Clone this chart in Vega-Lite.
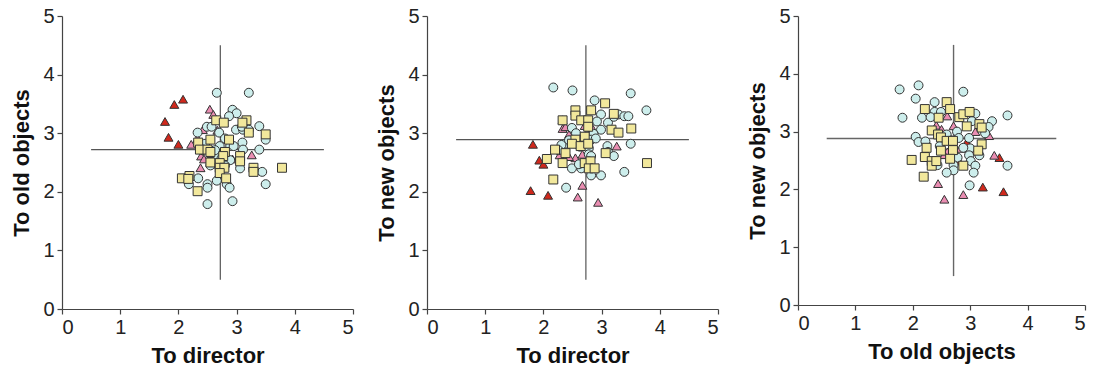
{
  "$schema": "https://vega.github.io/schema/vega-lite/v6.json",
  "padding": {"top": 6, "left": 10, "right": 5, "bottom": 5},
  "background": "white",
  "datasets": {
    "p1": [
      {"x":1.77,"y":3.20,"g":"red"},{"x":1.93,"y":3.49,"g":"red"},{"x":2.08,"y":3.58,"g":"red"},{"x":1.83,"y":2.93,"g":"red"},{"x":2.0,"y":2.81,"g":"red"},
      {"x":2.54,"y":3.41,"g":"pink"},{"x":2.6,"y":3.32,"g":"pink"},{"x":2.67,"y":3.05,"g":"pink"},{"x":2.42,"y":3.06,"g":"pink"},{"x":2.22,"y":2.81,"g":"pink"},{"x":2.33,"y":2.91,"g":"pink"},{"x":2.39,"y":2.61,"g":"pink"},{"x":2.44,"y":2.56,"g":"pink"},{"x":2.38,"y":2.41,"g":"pink"},{"x":2.66,"y":2.47,"g":"pink"},{"x":2.93,"y":2.56,"g":"pink"},{"x":3.26,"y":2.63,"g":"pink"},{"x":2.57,"y":2.65,"g":"pink"},
      {"x":2.66,"y":3.69,"g":"circle"},{"x":3.21,"y":3.69,"g":"circle"},{"x":2.93,"y":3.40,"g":"circle"},{"x":3.0,"y":3.34,"g":"circle"},{"x":2.87,"y":3.29,"g":"circle"},{"x":2.99,"y":3.06,"g":"circle"},{"x":3.11,"y":3.06,"g":"circle"},{"x":3.21,"y":3.06,"g":"circle"},{"x":3.39,"y":3.12,"g":"circle"},{"x":3.10,"y":2.84,"g":"circle"},{"x":3.11,"y":2.72,"g":"circle"},{"x":3.39,"y":2.72,"g":"circle"},{"x":3.50,"y":2.89,"g":"circle"},{"x":2.33,"y":3.01,"g":"circle"},{"x":2.49,"y":3.11,"g":"circle"},{"x":2.57,"y":3.11,"g":"circle"},{"x":2.70,"y":3.01,"g":"circle"},{"x":2.46,"y":2.82,"g":"circle"},{"x":2.8,"y":2.91,"g":"circle"},{"x":2.89,"y":2.78,"g":"circle"},{"x":2.71,"y":2.78,"g":"circle"},{"x":2.95,"y":2.78,"g":"circle"},{"x":2.66,"y":2.63,"g":"circle"},{"x":2.74,"y":2.57,"g":"circle"},{"x":2.89,"y":2.54,"g":"circle"},{"x":3.06,"y":2.40,"g":"circle"},{"x":3.29,"y":2.40,"g":"circle"},{"x":3.44,"y":2.34,"g":"circle"},{"x":3.50,"y":2.13,"g":"circle"},{"x":2.34,"y":2.23,"g":"circle"},{"x":2.18,"y":2.13,"g":"circle"},{"x":2.5,"y":2.13,"g":"circle"},{"x":2.5,"y":2.07,"g":"circle"},{"x":2.66,"y":2.19,"g":"circle"},{"x":2.83,"y":2.13,"g":"circle"},{"x":2.88,"y":2.07,"g":"circle"},{"x":2.5,"y":1.79,"g":"circle"},{"x":2.93,"y":1.84,"g":"circle"},{"x":2.55,"y":2.45,"g":"circle"},{"x":2.63,"y":2.71,"g":"circle"},{"x":2.41,"y":2.71,"g":"circle"},{"x":2.8,"y":2.45,"g":"circle"},{"x":3.09,"y":3.11,"g":"circle"},
      {"x":2.65,"y":3.22,"g":"square"},{"x":2.78,"y":3.18,"g":"square"},{"x":3.17,"y":3.22,"g":"square"},{"x":3.1,"y":3.18,"g":"square"},{"x":3.21,"y":3.01,"g":"square"},{"x":3.5,"y":2.98,"g":"square"},{"x":2.55,"y":2.89,"g":"square"},{"x":2.87,"y":2.89,"g":"square"},{"x":2.34,"y":2.84,"g":"square"},{"x":2.37,"y":2.72,"g":"square"},{"x":2.5,"y":2.72,"g":"square"},{"x":2.55,"y":2.68,"g":"square"},{"x":2.8,"y":2.68,"g":"square"},{"x":2.77,"y":2.61,"g":"square"},{"x":3.06,"y":2.61,"g":"square"},{"x":3.06,"y":2.52,"g":"square"},{"x":2.55,"y":2.5,"g":"square"},{"x":2.71,"y":2.49,"g":"square"},{"x":2.71,"y":2.41,"g":"square"},{"x":2.79,"y":2.41,"g":"square"},{"x":2.71,"y":2.32,"g":"square"},{"x":2.82,"y":2.23,"g":"square"},{"x":3.29,"y":2.41,"g":"square"},{"x":3.29,"y":2.34,"g":"square"},{"x":3.78,"y":2.41,"g":"square"},{"x":2.06,"y":2.23,"g":"square"},{"x":2.19,"y":2.27,"g":"square"},{"x":2.17,"y":2.22,"g":"square"},{"x":2.33,"y":2.01,"g":"square"}
    ],
    "p2": [
      {"x":1.82,"y":2.81,"g":"red"},{"x":1.93,"y":2.54,"g":"red"},{"x":2.0,"y":2.47,"g":"red"},{"x":1.78,"y":2.02,"g":"red"},{"x":2.08,"y":1.94,"g":"red"},
      {"x":2.33,"y":3.23,"g":"pink"},{"x":2.33,"y":3.08,"g":"pink"},{"x":2.38,"y":3.11,"g":"pink"},{"x":2.44,"y":2.98,"g":"pink"},{"x":2.61,"y":2.94,"g":"pink"},{"x":2.71,"y":3.13,"g":"pink"},{"x":2.84,"y":3.09,"g":"pink"},{"x":3.26,"y":2.78,"g":"pink"},{"x":2.67,"y":2.64,"g":"pink"},{"x":2.55,"y":2.58,"g":"pink"},{"x":2.44,"y":2.60,"g":"pink"},{"x":2.28,"y":2.63,"g":"pink"},{"x":2.67,"y":2.11,"g":"pink"},{"x":2.59,"y":1.91,"g":"pink"},{"x":2.94,"y":1.82,"g":"pink"},
      {"x":2.17,"y":3.78,"g":"circle"},{"x":2.5,"y":3.73,"g":"circle"},{"x":2.88,"y":3.56,"g":"circle"},{"x":3.5,"y":3.68,"g":"circle"},{"x":3.77,"y":3.39,"g":"circle"},{"x":2.99,"y":3.32,"g":"circle"},{"x":2.92,"y":3.2,"g":"circle"},{"x":3.11,"y":3.18,"g":"circle"},{"x":3.29,"y":3.32,"g":"circle"},{"x":3.39,"y":3.29,"g":"circle"},{"x":3.46,"y":3.29,"g":"circle"},{"x":3.21,"y":3.28,"g":"circle"},{"x":2.99,"y":3.06,"g":"circle"},{"x":2.86,"y":2.99,"g":"circle"},{"x":2.82,"y":2.89,"g":"circle"},{"x":2.49,"y":3.09,"g":"circle"},{"x":2.56,"y":3.0,"g":"circle"},{"x":2.37,"y":2.82,"g":"circle"},{"x":2.31,"y":2.80,"g":"circle"},{"x":2.44,"y":2.88,"g":"circle"},{"x":2.63,"y":2.77,"g":"circle"},{"x":2.78,"y":2.74,"g":"circle"},{"x":3.10,"y":2.78,"g":"circle"},{"x":3.11,"y":2.68,"g":"circle"},{"x":3.21,"y":2.61,"g":"circle"},{"x":3.5,"y":2.82,"g":"circle"},{"x":2.78,"y":2.64,"g":"circle"},{"x":2.82,"y":2.61,"g":"circle"},{"x":2.49,"y":2.40,"g":"circle"},{"x":2.65,"y":2.40,"g":"circle"},{"x":2.61,"y":2.47,"g":"circle"},{"x":2.82,"y":2.28,"g":"circle"},{"x":2.99,"y":2.28,"g":"circle"},{"x":3.39,"y":2.34,"g":"circle"},{"x":2.39,"y":2.07,"g":"circle"},{"x":2.78,"y":2.52,"g":"circle"},{"x":2.26,"y":2.71,"g":"circle"},{"x":2.9,"y":2.91,"g":"circle"},
      {"x":2.55,"y":3.39,"g":"square"},{"x":2.55,"y":3.30,"g":"square"},{"x":2.82,"y":3.39,"g":"square"},{"x":3.06,"y":3.51,"g":"square"},{"x":2.65,"y":3.22,"g":"square"},{"x":2.77,"y":3.22,"g":"square"},{"x":2.77,"y":3.11,"g":"square"},{"x":2.33,"y":3.22,"g":"square"},{"x":3.21,"y":3.33,"g":"square"},{"x":3.17,"y":3.06,"g":"square"},{"x":3.29,"y":3.01,"g":"square"},{"x":3.51,"y":3.08,"g":"square"},{"x":2.71,"y":2.94,"g":"square"},{"x":2.55,"y":2.89,"g":"square"},{"x":2.49,"y":2.82,"g":"square"},{"x":2.64,"y":2.78,"g":"square"},{"x":2.77,"y":2.82,"g":"square"},{"x":2.2,"y":2.72,"g":"square"},{"x":2.38,"y":2.66,"g":"square"},{"x":2.06,"y":2.56,"g":"square"},{"x":2.33,"y":2.49,"g":"square"},{"x":3.07,"y":2.66,"g":"square"},{"x":2.71,"y":2.49,"g":"square"},{"x":2.81,"y":2.52,"g":"square"},{"x":2.78,"y":2.40,"g":"square"},{"x":2.88,"y":2.40,"g":"square"},{"x":3.78,"y":2.49,"g":"square"},{"x":2.17,"y":2.21,"g":"square"}
    ],
    "p3": [
      {"x":2.94,"y":2.82,"g":"red"},{"x":2.81,"y":2.49,"g":"red"},{"x":3.51,"y":2.55,"g":"red"},{"x":3.22,"y":2.04,"g":"red"},{"x":3.58,"y":1.96,"g":"red"},
      {"x":3.42,"y":2.59,"g":"pink"},{"x":3.33,"y":2.93,"g":"pink"},{"x":3.09,"y":3.0,"g":"pink"},{"x":2.6,"y":3.27,"g":"pink"},{"x":2.41,"y":3.11,"g":"pink"},{"x":2.50,"y":3.04,"g":"pink"},{"x":2.71,"y":3.10,"g":"pink"},{"x":2.83,"y":2.71,"g":"pink"},{"x":3.02,"y":2.67,"g":"pink"},{"x":2.60,"y":2.65,"g":"pink"},{"x":2.55,"y":2.60,"g":"pink"},{"x":2.44,"y":2.10,"g":"pink"},{"x":2.55,"y":1.83,"g":"pink"},{"x":2.88,"y":1.91,"g":"pink"},
      {"x":1.77,"y":3.73,"g":"circle"},{"x":2.1,"y":3.80,"g":"circle"},{"x":2.05,"y":3.57,"g":"circle"},{"x":1.82,"y":3.24,"g":"circle"},{"x":2.16,"y":3.24,"g":"circle"},{"x":2.38,"y":3.51,"g":"circle"},{"x":2.38,"y":3.34,"g":"circle"},{"x":2.49,"y":3.34,"g":"circle"},{"x":2.88,"y":3.69,"g":"circle"},{"x":3.09,"y":3.31,"g":"circle"},{"x":3.03,"y":3.18,"g":"circle"},{"x":3.38,"y":3.18,"g":"circle"},{"x":3.32,"y":3.08,"g":"circle"},{"x":3.65,"y":3.28,"g":"circle"},{"x":3.26,"y":2.97,"g":"circle"},{"x":2.77,"y":3.0,"g":"circle"},{"x":2.80,"y":2.89,"g":"circle"},{"x":2.98,"y":2.89,"g":"circle"},{"x":2.05,"y":2.91,"g":"circle"},{"x":2.10,"y":2.82,"g":"circle"},{"x":2.22,"y":2.83,"g":"circle"},{"x":2.47,"y":2.75,"g":"circle"},{"x":3.0,"y":2.71,"g":"circle"},{"x":2.98,"y":2.59,"g":"circle"},{"x":3.16,"y":2.59,"g":"circle"},{"x":3.01,"y":2.49,"g":"circle"},{"x":3.09,"y":2.41,"g":"circle"},{"x":3.06,"y":2.29,"g":"circle"},{"x":2.78,"y":2.55,"g":"circle"},{"x":2.71,"y":2.42,"g":"circle"},{"x":2.71,"y":2.33,"g":"circle"},{"x":2.59,"y":2.29,"g":"circle"},{"x":2.43,"y":2.42,"g":"circle"},{"x":2.99,"y":2.07,"g":"circle"},{"x":3.65,"y":2.41,"g":"circle"},{"x":2.31,"y":3.25,"g":"circle"},{"x":2.66,"y":2.85,"g":"circle"},{"x":2.88,"y":2.72,"g":"circle"},{"x":2.59,"y":2.95,"g":"circle"},
      {"x":2.21,"y":3.39,"g":"square"},{"x":2.59,"y":3.51,"g":"square"},{"x":2.65,"y":3.39,"g":"square"},{"x":2.45,"y":3.24,"g":"square"},{"x":2.81,"y":3.25,"g":"square"},{"x":2.88,"y":3.30,"g":"square"},{"x":2.99,"y":3.34,"g":"square"},{"x":2.94,"y":3.09,"g":"square"},{"x":3.16,"y":3.13,"g":"square"},{"x":3.20,"y":3.07,"g":"square"},{"x":2.33,"y":3.02,"g":"square"},{"x":2.44,"y":2.95,"g":"square"},{"x":2.49,"y":2.90,"g":"square"},{"x":2.59,"y":2.84,"g":"square"},{"x":2.70,"y":2.84,"g":"square"},{"x":2.24,"y":2.72,"g":"square"},{"x":2.49,"y":2.67,"g":"square"},{"x":2.70,"y":2.68,"g":"square"},{"x":3.20,"y":2.78,"g":"square"},{"x":3.14,"y":2.67,"g":"square"},{"x":2.65,"y":2.53,"g":"square"},{"x":2.88,"y":2.41,"g":"square"},{"x":1.98,"y":2.51,"g":"square"},{"x":2.21,"y":2.56,"g":"square"},{"x":2.33,"y":2.49,"g":"square"},{"x":2.33,"y":2.41,"g":"square"},{"x":2.41,"y":2.49,"g":"square"},{"x":2.19,"y":2.22,"g":"square"}
    ]
  },
  "hconcat": [
    {
      "hconcat": [
        {
          "width": 291, "height": 293,
          "layer": [
            {"data": {"values": [{"x": 0.5, "x2": 4.5, "y": 2.72}]}, "mark": {"type": "rule", "color": "#555", "strokeWidth": 1.2},
             "encoding": {"x": {"field": "x", "type": "quantitative", "title": "To director"}, "x2": {"field": "x2"}, "y": {"field": "y", "type": "quantitative", "title": "To old objects"}}},
            {"data": {"values": [{"x": 2.72, "y": 0.5, "y2": 4.5}]}, "mark": {"type": "rule", "color": "#555", "strokeWidth": 1.2},
             "encoding": {"x": {"field": "x", "type": "quantitative", "title": "To director"}, "y": {"field": "y", "type": "quantitative", "title": "To old objects"}, "y2": {"field": "y2"}}},
            {"data": {"name": "p1"}, "mark": {"type": "point", "filled": true, "stroke": "#333", "strokeWidth": 1, "opacity": 1},
             "encoding": {
               "x": {"field": "x", "type": "quantitative", "title": "To director", "scale": {"domain": [0, 5], "nice": false}, "axis": {"values": [0,1,2,3,4,5], "format": "d"}},
               "y": {"field": "y", "type": "quantitative", "title": "To old objects", "scale": {"domain": [0, 5], "nice": false}, "axis": {"values": [0,1,2,3,4,5], "format": "d"}},
               "shape": {"field": "g", "type": "nominal", "scale": {"domain": ["circle","square","pink","red"], "range": ["circle","square","triangle-up","triangle-up"]}, "legend": null},
               "fill": {"field": "g", "type": "nominal", "scale": {"domain": ["circle","square","pink","red"], "range": ["#cdeeec","#f2e89c","#ea8db2","#d0281c"]}, "legend": null},
               "size": {"field": "g", "type": "nominal", "scale": {"domain": ["circle","square","pink","red"], "range": [80, 80, 100, 100]}, "legend": null}
             }}
          ]
        },
        {
          "width": 291, "height": 293,
          "layer": [
            {"data": {"values": [{"x": 0.5, "x2": 4.5, "y": 2.89}]}, "mark": {"type": "rule", "color": "#555", "strokeWidth": 1.2},
             "encoding": {"x": {"field": "x", "type": "quantitative", "title": "To director"}, "x2": {"field": "x2"}, "y": {"field": "y", "type": "quantitative", "title": "To new objects"}}},
            {"data": {"values": [{"x": 2.73, "y": 0.5, "y2": 4.5}]}, "mark": {"type": "rule", "color": "#555", "strokeWidth": 1.2},
             "encoding": {"x": {"field": "x", "type": "quantitative", "title": "To director"}, "y": {"field": "y", "type": "quantitative", "title": "To new objects"}, "y2": {"field": "y2"}}},
            {"data": {"name": "p2"}, "mark": {"type": "point", "filled": true, "stroke": "#333", "strokeWidth": 1, "opacity": 1},
             "encoding": {
               "x": {"field": "x", "type": "quantitative", "title": "To director", "scale": {"domain": [0, 5], "nice": false}, "axis": {"values": [0,1,2,3,4,5], "format": "d"}},
               "y": {"field": "y", "type": "quantitative", "title": "To new objects", "scale": {"domain": [0, 5], "nice": false}, "axis": {"values": [0,1,2,3,4,5], "format": "d"}},
               "shape": {"field": "g", "type": "nominal", "scale": {"domain": ["circle","square","pink","red"], "range": ["circle","square","triangle-up","triangle-up"]}, "legend": null},
               "fill": {"field": "g", "type": "nominal", "scale": {"domain": ["circle","square","pink","red"], "range": ["#cdeeec","#f2e89c","#ea8db2","#d0281c"]}, "legend": null},
               "size": {"field": "g", "type": "nominal", "scale": {"domain": ["circle","square","pink","red"], "range": [80, 80, 100, 100]}, "legend": null}
             }}
          ]
        }
      ],
      "spacing": 21
    },
    {
      "width": 287, "height": 289,
      "layer": [
        {"data": {"values": [{"x": 0.5, "x2": 4.5, "y": 2.88}]}, "mark": {"type": "rule", "color": "#666", "strokeWidth": 1.4},
         "encoding": {"x": {"field": "x", "type": "quantitative", "title": "To old objects"}, "x2": {"field": "x2"}, "y": {"field": "y", "type": "quantitative", "title": "To new objects"}}},
        {"data": {"values": [{"x": 2.71, "y": 0.5, "y2": 4.5}]}, "mark": {"type": "rule", "color": "#666", "strokeWidth": 1.4},
         "encoding": {"x": {"field": "x", "type": "quantitative", "title": "To old objects"}, "y": {"field": "y", "type": "quantitative", "title": "To new objects"}, "y2": {"field": "y2"}}},
        {"data": {"name": "p3"}, "mark": {"type": "point", "filled": true, "stroke": "#333", "strokeWidth": 1, "opacity": 1},
         "encoding": {
           "x": {"field": "x", "type": "quantitative", "title": "To old objects", "scale": {"domain": [0, 5], "nice": false}, "axis": {"values": [0,1,2,3,4,5], "format": "d"}},
           "y": {"field": "y", "type": "quantitative", "title": "To new objects", "scale": {"domain": [0, 5], "nice": false}, "axis": {"values": [0,1,2,3,4,5], "format": "d"}},
           "shape": {"field": "g", "type": "nominal", "scale": {"domain": ["circle","square","pink","red"], "range": ["circle","square","triangle-up","triangle-up"]}, "legend": null},
           "fill": {"field": "g", "type": "nominal", "scale": {"domain": ["circle","square","pink","red"], "range": ["#cdeeec","#f2e89c","#ea8db2","#d0281c"]}, "legend": null},
           "size": {"field": "g", "type": "nominal", "scale": {"domain": ["circle","square","pink","red"], "range": [80, 80, 100, 100]}, "legend": null}
         }}
      ]
    }
  ],
  "spacing": 27,
  "config": {
    "view": {"stroke": null},
    "axis": {
      "grid": false,
      "domainColor": "#444", "domainWidth": 1.2,
      "tickColor": "#444", "tickSize": 5, "tickWidth": 1.2,
      "labelFont": "Liberation Sans", "labelFontSize": 20, "labelColor": "#222", "labelPadding": 3,
      "titleFont": "Liberation Sans", "titleFontSize": 22, "titleFontWeight": "bold", "titleColor": "#111"
    },
    "axisX": {"titlePadding": 8},
    "axisY": {"titlePadding": 9}
  }
}
